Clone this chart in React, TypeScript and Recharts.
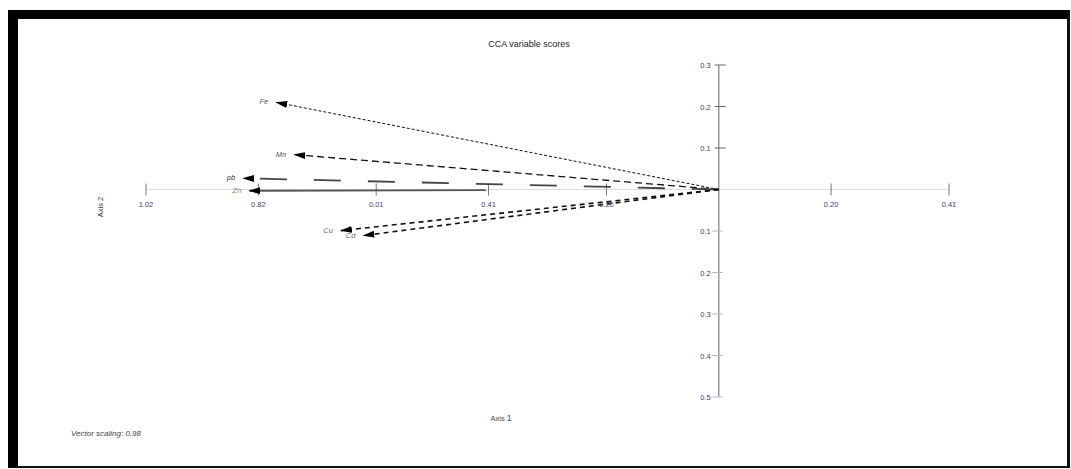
import React from "react";
import { ScatterChart, Scatter, XAxis, YAxis, ReferenceLine } from "recharts";

// CCA biplot: variable vectors from the origin
const variables = ["Fe", "Mn", "pb", "Zn", "Cu", "Cd"];
const axis1Scores = [-0.788, -0.756, -0.847, -0.836, -0.673, -0.633];
const axis2Scores = [0.21, 0.084, 0.027, -0.003, -0.099, -0.111];

const xTicks = [-1.02, -0.82, -0.61, -0.41, -0.2, 0.2, 0.41];
const xTickLabels = ["1.02", "0.82", "0.01", "0.41", "0.20", "0.20", "0.41"];
const yTicks = [0.3, 0.2, 0.1, -0.1, -0.2, -0.3, -0.4, -0.5];
const yTickLabels = ["0.3", "0.2", "0.1", "0.1", "0.2", "0.3", "0.4", "0.5"];

const LINE_STYLE: Record<string, { stroke: string; width: number; dash: string; text: string }> = {
  Fe: { stroke: "#111", width: 1, dash: "3 2", text: "#555" },
  Mn: { stroke: "#111", width: 1.3, dash: "7 4", text: "#555" },
  pb: { stroke: "#444", width: 1.8, dash: "27 27", text: "#333" },
  Zn: { stroke: "#555", width: 1.8, dash: "0 233 240 100", text: "#7a8a6a" },
  Cu: { stroke: "#111", width: 1.6, dash: "5 4", text: "#666" },
  Cd: { stroke: "#111", width: 1.6, dash: "5 4", text: "#666" },
};

const FONT = "'Liberation Sans Narrow', 'Liberation Sans', Arial, sans-serif";
const TICK_COLOR = "#3c3c78";

const xTickData = xTicks.map((t, i) => ({ x: t, y: 0, label: xTickLabels[i] }));
const yTickData = yTicks.map((t, i) => ({ x: 0, y: t, label: yTickLabels[i] }));

function XTick(props: any) {
  const { cx, cy, payload } = props;
  return (
    <g>
      <line x1={cx} x2={cx} y1={cy - 6} y2={cy + 6} stroke="#777" strokeWidth={1} />
      <text x={cx} y={cy + 17} textAnchor="middle" fontSize={7.5} fontFamily={FONT} fill={TICK_COLOR}>
        {payload.label}
      </text>
    </g>
  );
}

function YTick(props: any) {
  const { cx, cy, payload } = props;
  const pos = payload.y > 0;
  return (
    <g>
      <line
        x1={pos ? cx - 4 : cx - 7}
        x2={pos ? cx + 7 : cx + 4}
        y1={cy}
        y2={cy}
        stroke={pos ? "#666" : "#bbb"}
        strokeWidth={1}
      />
      <text x={cx - 8} y={cy + 3} textAnchor="end" fontSize={7.5} fontFamily={FONT} fill={TICK_COLOR}>
        {payload.label}
      </text>
    </g>
  );
}

function VectorLabel(props: any) {
  const { cx, cy, payload } = props;
  if (!payload.name) return <g />;
  const s = LINE_STYLE[payload.name];
  return (
    <text
      x={cx - 8}
      y={cy + 2}
      textAnchor="end"
      fontSize={7.5}
      fontStyle="italic"
      fontFamily={FONT}
      fill={s.text}
    >
      {payload.name}
    </text>
  );
}

function Txt({ x, y, children, style }: any) {
  return (
    <div
      style={{
        position: "absolute",
        left: x,
        top: y,
        transform: "translate(-50%, -50%)",
        whiteSpace: "nowrap",
        fontFamily: FONT,
        lineHeight: 1,
        ...style,
      }}
    >
      {children}
    </div>
  );
}

export default function App() {
  return (
    <div style={{ position: "absolute", left: 0, top: 0, width: 1071, height: 469, background: "#fff", overflow: "hidden" }}>
      <div
        style={{
          position: "absolute",
          left: 8,
          top: 10,
          width: 1062,
          height: 458,
          boxSizing: "border-box",
          borderTop: "9px solid #000",
          borderLeft: "10px solid #000",
          borderRight: "3px solid #111",
          borderBottom: "2px solid #111",
        }}
      />
      <div style={{ position: "absolute", left: 0, top: 0 }}>
        <ScatterChart width={1071} height={469} margin={{ top: 65, right: 122, bottom: 72, left: 146 }}>
          <defs>
            <marker
              id="ah"
              markerWidth="12"
              markerHeight="8"
              refX="11"
              refY="4"
              orient="auto"
              markerUnits="userSpaceOnUse"
            >
              <path d="M0,0.5 L12,4 L0,7.5 z" fill="#000" />
            </marker>
          </defs>
          <XAxis type="number" dataKey="x" domain={[-1.02, 0.41]} hide />
          <YAxis type="number" dataKey="y" domain={[-0.5, 0.3]} hide />
          <ReferenceLine
            segment={[
              { x: -1.02, y: 0 },
              { x: 0.41, y: 0 },
            ]}
            stroke="#ddd"
            strokeWidth={1}
            ifOverflow="visible"
          />
          <ReferenceLine
            segment={[
              { x: 0, y: 0.3 },
              { x: 0, y: -0.5 },
            ]}
            stroke="#999"
            strokeWidth={1.5}
            ifOverflow="visible"
          />
          <Scatter data={xTickData} shape={<XTick />} isAnimationActive={false} />
          <Scatter data={yTickData} shape={<YTick />} isAnimationActive={false} />
          {variables.map((v, i) => {
            const s = LINE_STYLE[v];
            return (
              <Scatter
                key={v}
                data={[
                  { x: 0, y: 0, name: "" },
                  { x: axis1Scores[i], y: axis2Scores[i], name: v },
                ]}
                line={{
                  stroke: s.stroke,
                  strokeWidth: s.width,
                  strokeDasharray: s.dash,
                  markerEnd: "url(#ah)",
                }}
                lineType="joint"
                shape={<VectorLabel />}
                isAnimationActive={false}
              />
            );
          })}
        </ScatterChart>
      </div>
      <Txt x={529} y={44} style={{ fontSize: 9, color: "#222" }}>
        CCA variable scores
      </Txt>
      <Txt x={501} y={418} style={{ fontSize: 7.5, color: "#444" }}>
        Axis <span style={{ color: "#2a3f9a", fontSize: 8.5 }}>1</span>
      </Txt>
      <Txt x={101} y={207} style={{ fontSize: 7.5, color: "#2f3a6a", transform: "translate(-50%, -50%) rotate(-90deg)" }}>
        Axis 2
      </Txt>
      <Txt x={106} y={434} style={{ fontSize: 8, color: "#444", fontStyle: "italic" }}>
        Vector scaling: 0.98
      </Txt>
    </div>
  );
}
